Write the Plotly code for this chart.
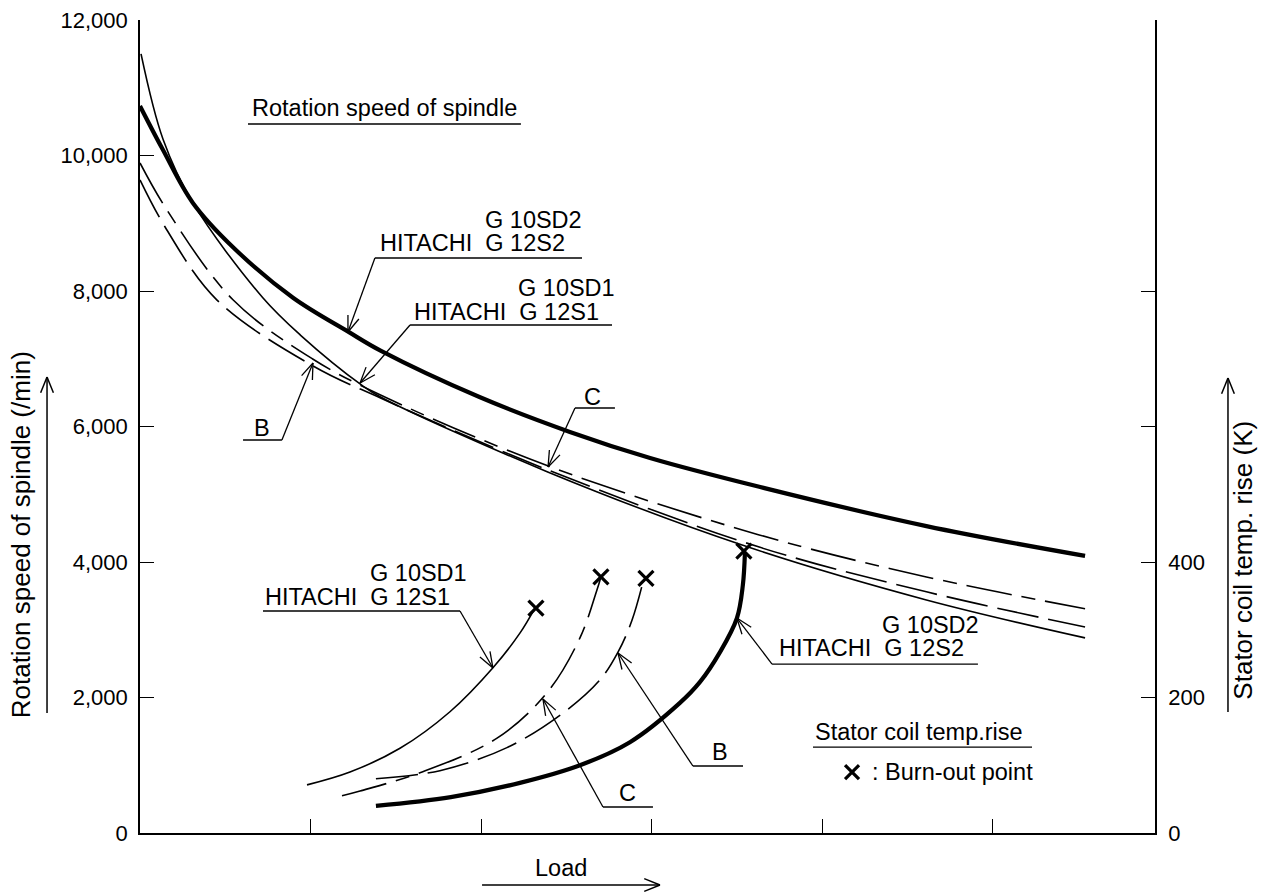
import math
import plotly.graph_objects as go

FONT = "Liberation Sans, Arial, Helvetica, sans-serif"
FS = 23.5      # annotation text
FS_TICK = 22   # tick labels
FS_TITLE = 26  # rotated axis titles

# ---------------- data ----------------
load_tickvals = [1, 2, 3, 4, 5]
speed_tickvals = [0, 2000, 4000, 6000, 8000, 10000, 12000]
temp_tickvals = [0, 200, 400, 600, 800, 1200]
temp_ticktext = ["0", "200", "400", "", "", ""]

# Rotation speed of spindle (/min) versus load
spd_s2_load = [0.0, 0.135, 0.31, 0.55, 0.897, 1.22, 1.41, 1.99, 2.52, 2.99, 3.63, 4.61, 5.54]
spd_s2 = [10730, 10080, 9300, 8635, 7900, 7400, 7120, 6435, 5920, 5535, 5110, 4530, 4090]

spd_s1_load = [0.006, 0.135, 0.31, 0.72, 0.94, 1.30, 1.41, 2.39, 3.53, 4.61, 5.54]
spd_s1 = [11500, 10240, 9300, 7900, 7350, 6610, 6435, 5330, 4250, 3440, 2880]

spd_c_load = [0.0, 0.158, 0.545, 1.01, 1.41, 2.39, 3.63, 4.61, 5.54]
spd_c = [9890, 9195, 7870, 7000, 6465, 5420, 4400, 3780, 3310]

spd_b_load = [0.0, 0.147, 0.45, 1.01, 1.41, 2.39, 3.63, 4.61, 5.54]
spd_b = [9640, 8945, 7870, 6900, 6420, 5360, 4220, 3560, 3040]

# Stator coil temperature rise (K) versus load
tmp_s1_load = [0.979, 1.231, 1.524, 1.817, 2.069, 2.227, 2.315]
tmp_s1 = [71, 90, 125, 179, 244, 295, 332]

tmp_c_load = [1.184, 1.290, 1.641, 2.093, 2.386, 2.579, 2.679, 2.702]
tmp_c = [55, 62, 89, 140, 207, 288, 359, 378]

tmp_b_load = [1.383, 1.758, 2.151, 2.479, 2.696, 2.802, 2.884, 2.954]
tmp_b = [80, 92, 126, 177, 226, 267, 314, 376]

tmp_s2_load = [1.383, 1.822, 2.227, 2.579, 2.872, 3.165, 3.283, 3.400, 3.499, 3.534, 3.546]
tmp_s2 = [40, 53, 74, 100, 134, 192, 223, 267, 317, 366, 413]

# Burn-out points
burn_load = [2.321, 2.702, 2.966, 3.540]
burn_temp = [332, 378, 376, 416]

# ---------------- layout geometry ----------------
W, H = 1272, 893
ML, MR, MT, MB = 140, 117, 20, 60
X_RANGE = [0, 5.95]
Y_RANGE = [0, 12000]
PW = W - ML - MR
PH = H - MT - MB

THICK = 4.2
THIN = 1.6
DASH_B = "42px,10px"
DASH_C = "46px,10px,14px,10px"
SMOOTH = 1.0


def to_px(x, y, ref):
    if ref == "data":
        px = ML + (x - X_RANGE[0]) / (X_RANGE[1] - X_RANGE[0]) * PW
        py = MT + (1 - (y - Y_RANGE[0]) / (Y_RANGE[1] - Y_RANGE[0])) * PH
    else:
        px = ML + x * PW
        py = MT + (1 - y) * PH
    return px, py


def from_px(px, py, ref):
    if ref == "data":
        x = X_RANGE[0] + (px - ML) / PW * (X_RANGE[1] - X_RANGE[0])
        y = Y_RANGE[0] + (1 - (py - MT) / PH) * (Y_RANGE[1] - Y_RANGE[0])
    else:
        x = (px - ML) / PW
        y = 1 - (py - MT) / PH
    return x, y


fig = go.Figure()


def curve(xs, ys, width, dash=None, y2=False):
    fig.add_trace(go.Scatter(
        x=xs, y=ys, yaxis="y2" if y2 else "y", mode="lines",
        line=dict(color="black", width=width, dash=dash, shape="spline", smoothing=SMOOTH)))


# speed curves
curve(spd_s2_load, spd_s2, THICK)
curve(spd_s1_load, spd_s1, THIN)
curve(spd_c_load, spd_c, THIN, DASH_C)
curve(spd_b_load, spd_b, THIN, DASH_B)

# temperature curves (right axis)
curve(tmp_s1_load, tmp_s1, THIN, y2=True)
curve(tmp_c_load, tmp_c, THIN, DASH_C, y2=True)
curve(tmp_b_load, tmp_b, THIN, DASH_B, y2=True)
curve(tmp_s2_load, tmp_s2, THICK, y2=True)
fig.add_trace(go.Scatter(x=burn_load, y=burn_temp, yaxis="y2", mode="markers",
                         marker=dict(symbol="x-thin", size=15, color="black",
                                     line=dict(color="black", width=3.2))))

shapes = []
annotations = []


def seg(x0, y0, x1, y1, ref="data", width=1.3):
    r = "x" if ref == "data" else "paper"
    rr = "y" if ref == "data" else "paper"
    shapes.append(dict(type="line", xref=r, yref=rr, x0=x0, y0=y0, x1=x1, y1=y1,
                       line=dict(color="black", width=width)))


def arrow(x0, y0, x1, y1, ref="data", width=1.3, head=17, ang=20):
    """line from tail (x0,y0) to tip (x1,y1) with an open V head"""
    seg(x0, y0, x1, y1, ref, width)
    p0 = to_px(x0, y0, ref)
    p1 = to_px(x1, y1, ref)
    dx, dy = p1[0] - p0[0], p1[1] - p0[1]
    n = math.hypot(dx, dy)
    ux, uy = dx / n, dy / n
    for s in (1, -1):
        a = math.radians(ang) * s
        bx = ux * math.cos(a) - uy * math.sin(a)
        by = ux * math.sin(a) + uy * math.cos(a)
        q = from_px(p1[0] - head * bx, p1[1] - head * by, ref)
        seg(q[0], q[1], x1, y1, ref, width)


def cross(x, y, half=7, ref="data", width=3.2):
    c = to_px(x, y, ref)
    for sx in (1, -1):
        a = from_px(c[0] - half, c[1] - half * sx, ref)
        b = from_px(c[0] + half, c[1] + half * sx, ref)
        seg(a[0], a[1], b[0], b[1], ref, width)


def text(x, y, s, anchor="left", ref="data", size=FS, angle=0):
    r = "x" if ref == "data" else "paper"
    rr = "y" if ref == "data" else "paper"
    annotations.append(dict(x=x, y=y, xref=r, yref=rr, text=s, showarrow=False,
                            xanchor=anchor, yanchor="middle", textangle=angle,
                            font=dict(family=FONT, size=size, color="black")))


NB = "\u00a0"
labels = [
    # (lines [(text, x, y, anchor)], underline (x0, x1, y), leader start, tip (x, y))
    ([("G 10SD2", 2.011, 9048, "left"), ("HITACHI" + NB + NB + "G 12S2", 1.395, 8708, "left")],
     (1.377, 2.591, 8487), "left", (1.219, 7395)),
    ([("G 10SD1", 2.204, 8044, "left"), ("HITACHI" + NB + NB + "G 12S1", 1.594, 7690, "left")],
     (1.583, 2.767, 7498), "left", (1.290, 6642)),
    ([("B", 0.715, 5978, "center")], (0.604, 0.832, 5801), "right", (1.014, 6937)),
    ([("C", 2.655, 6435, "center")], (2.550, 2.784, 6273), "left", (2.392, 5402)),
    ([("G 10SD1", 1.336, 3838, "left"), ("HITACHI" + NB + NB + "G 12S1", 0.721, 3483, "left")],
     (0.721, 1.876, 3277), "right", (2.069, 2435)),
    ([("C", 2.860, 590, "center")], (2.714, 3.007, 384), "left", (2.362, 1978)),
    ([("B", 3.400, 1196, "center")], (3.241, 3.535, 989), "left", (2.802, 2657)),
    ([("G 10SD2", 4.338, 3070, "left"), ("HITACHI" + NB + NB + "G 12S2", 3.734, 2731, "left")],
     (3.705, 4.912, 2494), "left", (3.499, 3173)),
]
for lines, (ux0, ux1, uy), start, tip in labels:
    for s, tx, ty, anc in lines:
        text(tx, ty, s, anchor=anc)
    seg(ux0, uy, ux1, uy)
    sx = ux0 if start == "left" else ux1
    arrow(sx, uy, tip[0], tip[1])

# headings inside the plot
text(0.645, 10701, "Rotation speed of spindle")
seg(0.633, 10465, 2.233, 10465)
text(3.945, 1491, "Stator coil temp.rise")
seg(3.945, 1269, 5.229, 1269)
cross(4.174, 900)
text(4.279, 900, ": Burn-out point")

# axis titles with arrows (outside the plot)
text(-0.117, 0.3665, "Rotation speed of spindle (/min)", anchor="center", ref="paper",
     angle=-90, size=FS_TITLE)
arrow(-0.0916, 0.1476, -0.0916, 0.5609, ref="paper", width=1.5, head=17, ang=22)
text(1.0867, 0.335, "Stator coil temp. rise (K)", anchor="center", ref="paper",
     angle=-90, size=FS_TITLE)
arrow(1.0719, 0.1488, 1.0719, 0.5597, ref="paper", width=1.5, head=17, ang=22)
text(0.4148, -0.0431, "Load", anchor="center", ref="paper")
arrow(0.337, -0.064, 0.5123, -0.064, ref="paper", width=1.5, head=17, ang=22)

axis_common = dict(showline=True, linecolor="black", linewidth=1.6, ticks="inside",
                   ticklen=14, tickwidth=1.4, tickcolor="black", showgrid=False, zeroline=False,
                   tickfont=dict(family=FONT, size=FS_TICK, color="black"))

fig.update_layout(
    width=W, height=H,
    margin=dict(l=ML, r=MR, t=MT, b=MB, autoexpand=False),
    paper_bgcolor="white", plot_bgcolor="white",
    showlegend=False,
    font=dict(family=FONT, size=FS, color="black"),
    xaxis=dict(range=X_RANGE, tickvals=load_tickvals, showticklabels=False, **axis_common),
    yaxis=dict(range=Y_RANGE, tickvals=speed_tickvals, tickformat=",d",
               ticklabelstandoff=6, **axis_common),
    yaxis2=dict(range=[0, 1200], overlaying="y", side="right", tickvals=temp_tickvals,
                ticktext=temp_ticktext, ticklabelstandoff=7, **axis_common),
    shapes=shapes,
    annotations=annotations,
)

fig.write_html("out.html")
